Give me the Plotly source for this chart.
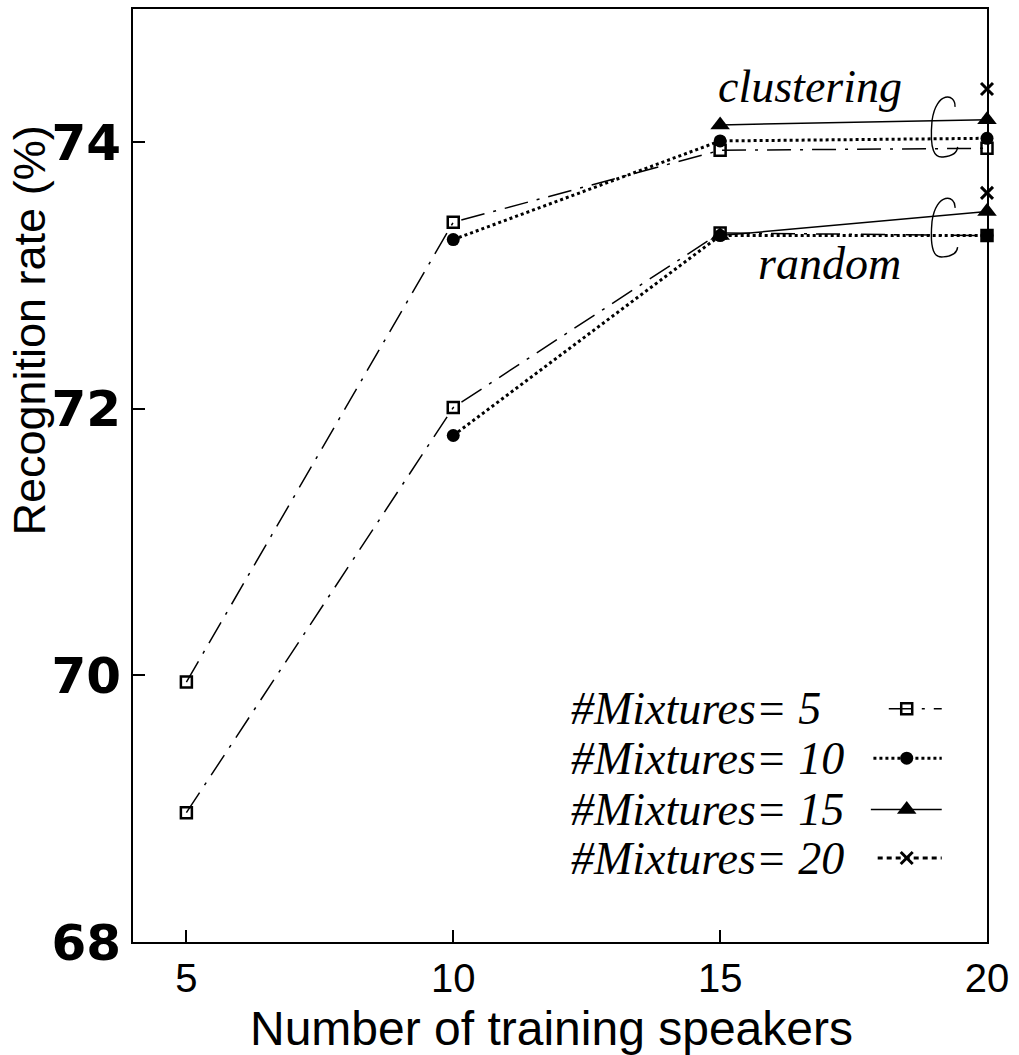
import plotly.graph_objects as go

# Number of training speakers on the x axis
speakers = [5, 10, 15, 20]

# Recognition rate (%) per mixture count; None where no model was trained
cluster_mix5 = [69.95, 73.40, 73.94, 73.955]
cluster_mix10 = [None, 73.27, 74.01, 74.03]
cluster_mix15 = [None, None, 74.13, 74.17]
cluster_mix20 = [None, None, None, 74.40]

random_mix5 = [68.97, 72.01, 73.32, 73.30]
random_mix10 = [None, 71.80, 73.30, 73.30]
random_mix15 = [None, None, 73.30, 73.48]
random_mix20 = [None, None, None, 73.62]

legend_labels = ["#Mixtures= 5", "#Mixtures= 10", "#Mixtures= 15", "#Mixtures= 20"]
x_ticks = [5, 10, 15, 20]
y_ticks = [68, 70, 72, 74]

# y extents (top, bottom) of the two group brackets near x = 20
bracket_spans = [(74.36, 73.89), (73.60, 73.14)]

SANS = "Liberation Sans, Arial, Helvetica, sans-serif"
SERIF = "Liberation Serif, Times New Roman, serif"

styles = [
    dict(line=dict(color="black", width=1.5, dash="24px,9px,3px,9px"),
         marker=dict(symbol="square-open", size=11, color="black", line=dict(width=2.5, color="black"))),
    dict(line=dict(color="black", width=3, dash="3px,3px"),
         marker=dict(symbol="circle", size=13, color="black")),
    dict(line=dict(color="black", width=1.5),
         marker=dict(symbol="triangle-up", size=17, color="black")),
    dict(line=dict(color="black", width=3, dash="5px,4px"),
         marker=dict(symbol="x-thin-open", size=12, color="black", line=dict(width=3, color="black"))),
]

series = [
    (cluster_mix5, random_mix5),
    (cluster_mix10, random_mix10),
    (cluster_mix15, random_mix15),
    (cluster_mix20, random_mix20),
]

fig = go.Figure()

for (clus, rand), st in zip(series, styles):
    for vals in (rand, clus):
        fig.add_trace(go.Scatter(
            x=speakers, y=vals, mode="lines+markers",
            line=st["line"], marker=st["marker"],
            showlegend=False, connectgaps=False, cliponaxis=False,
        ))

# Hand-built legend: label on the left, line sample on the right
legend_rows_y = [0.250, 0.197, 0.142, 0.090]
sample_x0 = [0.885, 0.867, 0.864, 0.872]
sample_x1 = 0.947
sample_xm = 0.906
for label, st, ry, x0 in zip(legend_labels, styles, legend_rows_y, sample_x0):
    fig.add_annotation(
        x=0.511, y=ry, xref="paper", yref="paper", text=label, showarrow=False,
        xanchor="left", yanchor="middle",
        font=dict(family=SERIF, size=46, color="black", style="italic"),
    )
    fig.add_trace(go.Scatter(
        x=[x0, sample_xm, sample_x1], y=[ry, ry, ry], mode="lines",
        line=st["line"], xaxis="x2", yaxis="y2", showlegend=False, hoverinfo="skip",
    ))
    fig.add_trace(go.Scatter(
        x=[sample_xm], y=[ry], mode="markers",
        marker=st["marker"], xaxis="x2", yaxis="y2", showlegend=False, hoverinfo="skip",
    ))

# Group labels
fig.add_annotation(x=16.68, y=74.42, text="clustering", showarrow=False,
                   xanchor="center", yanchor="middle",
                   font=dict(family=SERIF, size=46, color="black", style="italic"))
fig.add_annotation(x=17.05, y=73.09, text="random", showarrow=False,
                   xanchor="center", yanchor="middle",
                   font=dict(family=SERIF, size=46, color="black", style="italic"))

# y-axis title sits above the plot's vertical centre
fig.add_annotation(x=-0.121, y=0.655, xref="paper", yref="paper",
                   text="Recognition rate (%)", textangle=-90, showarrow=False,
                   xanchor="center", yanchor="middle",
                   font=dict(family=SANS, size=45, color="black"))

# x-axis title placed as its own text line below the tick labels
fig.add_annotation(x=0.49, y=-0.093, xref="paper", yref="paper",
                   text="Number of training speakers", showarrow=False,
                   xanchor="center", yanchor="middle",
                   font=dict(family=SANS, size=48, color="black"))


def bracket_path(y_top, y_bot):
    h = y_top - y_bot
    return (
        f"M 19.40,{y_top - 0.20 * h:.4f} "
        f"C 19.42,{y_top + 0.02 * h:.4f} 19.05,{y_top + 0.06 * h:.4f} 18.97,{y_top - 0.42 * h:.4f} "
        f"C 18.92,{y_bot + 0.10 * h:.4f} 19.02,{y_bot - 0.02 * h:.4f} 19.18,{y_bot:.4f} "
        f"C 19.32,{y_bot + 0.01 * h:.4f} 19.44,{y_bot + 0.06 * h:.4f} 19.45,{y_bot + 0.16 * h:.4f}"
    )


for y_top, y_bot in bracket_spans:
    fig.add_shape(type="path", path=bracket_path(y_top, y_bot), xref="x", yref="y",
                  line=dict(color="black", width=1.4))

fig.update_layout(
    width=1019, height=1055,
    margin=dict(l=133, r=32, t=7, b=113),
    paper_bgcolor="white", plot_bgcolor="white",
    showlegend=False,
    xaxis=dict(
        range=[4, 20], tickvals=x_ticks, ticks="inside", ticklen=12, tickwidth=1.5,
        tickcolor="black", showline=True, linecolor="black", linewidth=2, mirror=True,
        showgrid=False, zeroline=False,
        tickfont=dict(family=SANS, size=40, color="black"),
    ),
    yaxis=dict(
        range=[68, 75], tickvals=y_ticks, ticks="inside", ticklen=12, tickwidth=1.5,
        tickcolor="black", showline=True, linecolor="black", linewidth=2, mirror=True,
        showgrid=False, zeroline=False,
        tickfont=dict(family="DejaVu Sans, sans-serif", size=50, color="black", weight="bold"),
    ),
    xaxis2=dict(range=[0, 1], overlaying="x", visible=False, fixedrange=True),
    yaxis2=dict(range=[0, 1], overlaying="y", visible=False, fixedrange=True),
)

fig.write_html("out.html")
